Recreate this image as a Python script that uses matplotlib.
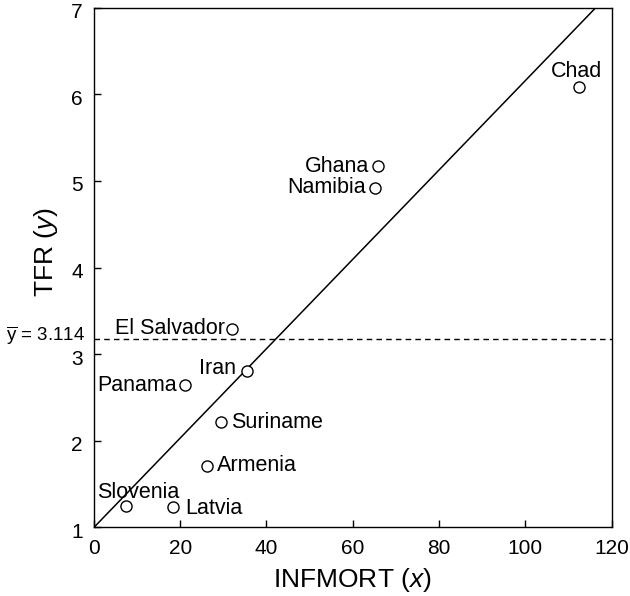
import matplotlib
matplotlib.use('Agg')
import matplotlib.pyplot as plt
import matplotlib.transforms as mtransforms
import numpy as np

plt.rcParams['font.family'] = ['Liberation Sans', 'DejaVu Sans']
plt.rcParams['mathtext.fontset'] = 'custom'
plt.rcParams['mathtext.rm'] = 'Liberation Sans'
plt.rcParams['mathtext.it'] = 'Liberation Sans:italic'

# data
countries = ['Slovenia', 'Latvia', 'Armenia', 'Suriname', 'Panama',
             'Iran', 'El Salvador', 'Namibia', 'Ghana', 'Chad']
infmort = [7.4, 18.3, 26.2, 29.5, 21.1, 35.4, 32.0, 65.2, 65.9, 112.3]
tfr = [1.25, 1.24, 1.71, 2.22, 2.64, 2.81, 3.29, 4.92, 5.17, 6.08]

# fitted line (as drawn) and mean line
line_intercept = 1.0
line_slope = 0.0516
ybar_label = '3.114'
ybar_line = 3.18

x_ticks = [0, 20, 40, 60, 80, 100, 120]
y_ticks = [1, 2, 3, 4, 5, 6, 7]

# label placement: (ha, va, dx, dy) in pixels
label_pos = {
    'Slovenia': ('center', 'baseline', 12, 8),
    'Latvia': ('left', 'center', 12, -2),
    'Armenia': ('left', 'center', 10, 0),
    'Suriname': ('left', 'center', 10, -1),
    'Panama': ('right', 'center', -8, 0),
    'Iran': ('right', 'center', -11, 2),
    'El Salvador': ('right', 'center', -7, 1),
    'Namibia': ('right', 'center', -9, 0),
    'Ghana': ('right', 'center', -9, 0),
    'Chad': ('center', 'baseline', -2, 10),
}

fig = plt.figure(figsize=(6.3, 5.96), dpi=100)
ax = fig.add_axes([0.149, 0.115, 0.822, 0.872])

xs = np.array([0, 120])
ax.plot(xs, line_intercept + line_slope * xs, color='black', lw=1.1, zorder=2)
ax.axhline(ybar_line, color='black', lw=1.0, ls=(0, (4, 3)), zorder=1)

ax.plot(infmort, tfr, 'o', ms=8, mfc='white', mec='black', mew=1.0, zorder=3)

for name, x, y in zip(countries, infmort, tfr):
    ha, va, dx, dy = label_pos[name]
    ax.annotate(name, (x, y), xytext=(dx, dy), textcoords='offset pixels',
                ha=ha, va=va, fontsize=15.5)

ax.annotate(r'$\overline{\mathrm{y}}$ = ' + ybar_label, (0, ybar_line),
            xycoords=('axes fraction', 'data'), xytext=(-9, 3),
            textcoords='offset pixels', ha='right', va='center', fontsize=13.5)

ax.set_xlim(0, 120)
ax.set_ylim(1, 7)
ax.set_xticks(x_ticks)
ax.set_yticks(y_ticks)
ax.tick_params(direction='in', length=5, width=1, labelsize=15, pad=8)

# nudge y tick labels down a little, as in the reference
shift = mtransforms.ScaledTranslation(0, -3 / 100, fig.dpi_scale_trans)
for lab in ax.get_yticklabels():
    lab.set_transform(lab.get_transform() + shift)

for s in ax.spines.values():
    s.set_linewidth(1.0)

ax.set_xlabel(r'INFMORT ($\mathit{x}$)', fontsize=19, labelpad=6)
ax.set_ylabel(r'TFR ($\mathit{y}$)', fontsize=19)
ax.yaxis.set_label_coords(-0.066, 0.53)

fig.savefig('out.png', dpi=100)
